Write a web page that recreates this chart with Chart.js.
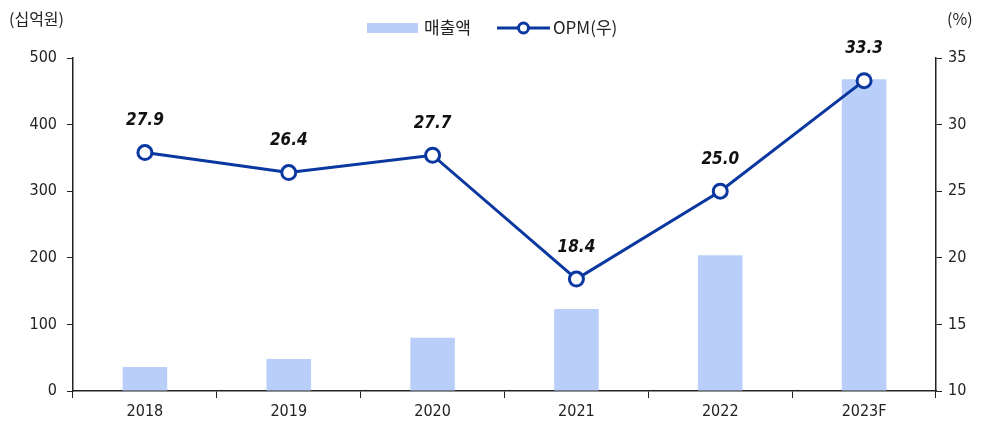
<!DOCTYPE html>
<html>
<head>
<meta charset="utf-8">
<script src="https://cdn.jsdelivr.net/npm/chart.js@4.4.1/dist/chart.umd.min.js"></script>
<style>
  html, body { margin: 0; padding: 0; background: #fff; }
  #wrap { width: 984px; height: 423px; position: relative; }
</style>
</head>
<body>
<div id="wrap"><canvas id="chart_revenueOpm"></canvas></div>
<script>
// data
var years = ['2018', '2019', '2020', '2021', '2022', '2023F'];
var revenue = [36, 48, 80, 123, 204, 468];       // 매출액 (십억원)
var opm = [27.9, 26.4, 27.7, 18.4, 25.0, 33.3];  // OPM (%)
var leftTicks = [0, 100, 200, 300, 400, 500];
var rightTicks = [10, 15, 20, 25, 30, 35];

var FONT = "'Liberation Sans Narrow', 'DejaVu Sans Condensed', 'Noto Sans CJK KR', sans-serif";
var KFONT = "'Liberation Sans Narrow', 'Noto Sans CJK KR', sans-serif";
var BAR_COLOR = '#b9cffa';
var LINE_COLOR = '#0a37a0';

var chart_revenueOpm = new Chart(document.getElementById('chart_revenueOpm'), {
    type: 'bar',
    data: {
        labels: years,
        datasets: [
            {
                type: 'line',
                label: 'OPM(우)',
                data: opm,
                yAxisID: 'y1',
                borderColor: LINE_COLOR,
                borderWidth: 3,
                pointRadius: 7,
                pointBorderWidth: 3,
                pointBackgroundColor: '#fff',
                pointBorderColor: LINE_COLOR,
                tension: 0,
                order: 0
            },
            {
                label: '매출액',
                data: revenue,
                yAxisID: 'y',
                backgroundColor: BAR_COLOR,
                barPercentage: 0.31,
                categoryPercentage: 1,
                order: 1
            }
        ]
    },
    options: {
        animation: false,
        responsive: true,
        maintainAspectRatio: false,
        layout: { padding: { top: 58, left: 0, right: 0, bottom: 0 } },
        plugins: {
            legend: { display: false },
            tooltip: { enabled: false }
        },
        scales: {
            x: {
                offset: true,
                grid: { offset: true, drawOnChartArea: false, drawTicks: true, tickLength: 7, color: '#222' },
                border: { display: true, color: '#222', width: 1.5 },
                ticks: { color: '#222', font: { family: FONT, size: 16 }, padding: 4 },
                afterFit: function (s) { s.height = 32; }
            },
            y: {
                position: 'left',
                min: 0, max: 500,
                afterBuildTicks: function (s) { s.ticks = leftTicks.map(function (v) { return { value: v }; }); },
                grid: { drawOnChartArea: false, drawTicks: true, tickLength: 6, color: '#222' },
                border: { display: true, color: '#222', width: 1.5 },
                ticks: { color: '#222', font: { family: FONT, size: 16 }, padding: 10 },
                afterFit: function (s) { s.width = 73; }
            },
            y1: {
                position: 'right',
                min: 10, max: 35,
                afterBuildTicks: function (s) { s.ticks = rightTicks.map(function (v) { return { value: v }; }); },
                grid: { drawOnChartArea: false, drawTicks: true, tickLength: 6, color: '#222' },
                border: { display: true, color: '#222', width: 1.5 },
                ticks: { color: '#222', font: { family: FONT, size: 16 }, padding: 6 },
                afterFit: function (s) { s.width = 48; }
            }
        }
    },
    plugins: [{
        id: 'customPlugin',
        beforeDraw: function (chart) {
            var ctx = chart.ctx;
            ctx.save();
            ctx.fillStyle = 'white';
            ctx.fillRect(0, 0, chart.width, chart.height);
            ctx.restore();
        },
        afterDraw: function (chart) {
            var ctx = chart.ctx;
            ctx.save();
            // axis unit titles
            ctx.fillStyle = '#222';
            ctx.textBaseline = 'middle';
            ctx.font = '16px ' + KFONT;
            ctx.textAlign = 'left';
            ctx.fillText('(십억원)', 9, 19);
            ctx.fillText('(%)', 947, 19);

            // legend
            ctx.font = '17px ' + KFONT;
            ctx.fillStyle = BAR_COLOR;
            ctx.fillRect(367, 23, 51, 10);
            ctx.fillStyle = '#222';
            ctx.fillText('매출액', 424, 28);
            ctx.strokeStyle = LINE_COLOR;
            ctx.lineWidth = 3;
            ctx.beginPath();
            ctx.moveTo(497, 28);
            ctx.lineTo(550, 28);
            ctx.stroke();
            ctx.beginPath();
            ctx.arc(523.5, 28, 5, 0, Math.PI * 2);
            ctx.fillStyle = '#fff';
            ctx.fill();
            ctx.stroke();
            ctx.fillStyle = '#222';
            ctx.fillText('OPM(우)', 553, 28);

            // value labels above line points
            var meta = chart.getDatasetMeta(0);
            ctx.font = 'italic bold 17px ' + FONT;
            ctx.textAlign = 'center';
            ctx.fillStyle = '#111';
            meta.data.forEach(function (pt, i) {
                ctx.fillText(opm[i].toFixed(1), pt.x, pt.y - 32);
            });
            ctx.restore();
        }
    }]
});
</script>
</body>
</html>
